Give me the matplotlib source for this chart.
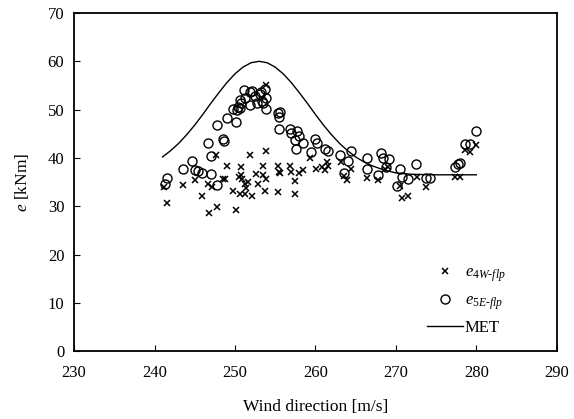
import matplotlib
matplotlib.use("Agg")
import matplotlib.pyplot as plt

plt.rcParams['font.family'] = ['Liberation Serif', 'DejaVu Serif']
plt.rcParams['mathtext.fontset'] = 'custom'
plt.rcParams['mathtext.rm'] = 'Liberation Serif'
plt.rcParams['mathtext.it'] = 'Liberation Serif:italic'

# e_4W-flp (crosses)
w4_x = [241.2, 241.5, 243.5, 245.0, 245.9, 246.8, 247.8, 246.7, 247.1, 247.7,
        248.5, 248.8, 249.0, 249.8, 250.1, 250.5, 250.7, 250.8, 250.9, 250.6,
        251.2, 251.2, 251.4, 251.6, 251.9, 252.1, 252.6, 252.9, 253.5, 253.5,
        253.7, 253.9, 253.9, 253.9, 255.4, 255.5, 255.6, 255.4, 256.8, 257.0,
        257.5, 257.5, 257.9, 258.5, 259.3, 260.1, 260.8, 261.2, 261.4, 261.6,
        263.2, 263.6, 263.9, 264.4, 266.4, 267.8, 268.6, 269.0, 270.5, 270.7,
        271.5, 272.6, 273.8, 277.3, 278.0, 278.6, 279.2, 280.0]
w4_y = [34.0, 30.7, 34.3, 35.4, 32.1, 28.6, 29.9, 34.7, 34.0, 40.5,
        35.6, 35.7, 38.3, 33.2, 29.2, 36.1, 36.4, 38.2, 35.7, 32.6,
        34.7, 32.6, 33.7, 35.1, 40.5, 32.2, 36.6, 34.7, 38.3, 36.4,
        33.2, 35.7, 41.5, 55.0, 38.3, 37.1, 36.9, 33.0, 38.3, 37.1,
        35.3, 32.6, 36.8, 37.5, 39.9, 37.8, 38.2, 37.5, 39.2, 38.3,
        39.2, 36.2, 35.4, 37.8, 35.8, 35.4, 37.8, 38.2, 34.2, 31.6,
        32.2, 36.1, 34.0, 36.1, 36.1, 41.6, 41.3, 42.7]

# e_5E-flp (circles)
e5_x = [241.3, 241.6, 243.5, 244.7, 245.0, 245.4, 245.9, 246.6, 247.0, 247.0,
        247.8, 247.8, 248.5, 248.6, 249.0, 249.8, 250.1, 250.2, 250.6, 250.8,
        250.6, 251.2, 251.1, 251.9, 252.1, 252.5, 252.7, 253.2, 253.3, 253.7,
        253.9, 253.9, 251.9, 253.1, 250.4, 253.5, 255.4, 255.5, 255.6, 255.5,
        256.8, 257.0, 257.7, 257.9, 257.5, 257.6, 258.5, 259.5, 260.0, 260.2,
        261.2, 261.6, 263.0, 263.5, 264.0, 264.4, 266.4, 266.4, 267.8, 268.2,
        268.4, 269.2, 268.8, 270.5, 270.7, 270.1, 271.5, 272.5, 273.8, 274.3,
        277.3, 277.7, 278.0, 278.6, 279.2, 280.0]
e5_y = [34.7, 35.9, 37.8, 39.4, 37.5, 37.3, 36.9, 43.1, 40.4, 36.6,
        34.4, 46.9, 44.0, 43.5, 48.3, 50.2, 47.5, 50.0, 50.4, 51.3,
        52.0, 52.3, 54.0, 50.9, 53.9, 52.8, 51.3, 53.7, 51.8, 54.2,
        52.5, 50.2, 53.7, 53.3, 50.6, 51.3, 49.2, 48.5, 49.5, 46.0,
        46.0, 45.1, 45.6, 44.5, 43.8, 41.8, 43.1, 41.3, 44.0, 43.1,
        41.8, 41.5, 40.7, 36.9, 39.4, 41.5, 39.9, 37.8, 36.4, 41.1,
        40.0, 39.8, 38.2, 37.7, 36.1, 34.2, 35.6, 38.8, 35.9, 35.9,
        38.2, 38.8, 39.0, 42.8, 42.8, 45.5]

# MET curve
met_x = [241, 242, 243, 244, 245, 246, 247, 248, 249, 250, 251, 252, 253,
         254, 255, 256, 257, 258, 259, 260, 261, 262, 263, 264, 265, 266,
         267, 268, 269, 270, 272, 275, 280]
met_y = [40.2, 41.5, 43.0, 44.8, 46.8, 49.0, 51.3, 53.5, 55.6, 57.4, 58.8, 59.7, 60.0,
         59.7, 58.8, 57.4, 55.6, 53.5, 51.3, 49.0, 46.8, 44.8, 43.0, 41.5, 40.2, 39.2,
         38.4, 37.8, 37.3, 36.9, 36.6, 36.5, 36.5]

fig = plt.figure(figsize=(5.74, 4.19), dpi=100)
ax = fig.add_axes([0.129, 0.162, 0.841, 0.807])

ax.plot(w4_x, w4_y, 'x', color='black', markersize=4.5, markeredgewidth=1.1,
        label=r'$e_{4W\text{-}flp}$')
ax.plot(e5_x, e5_y, 'o', markerfacecolor='none', markeredgecolor='black',
        markersize=6.5, markeredgewidth=1.0, label=r'$e_{5E\text{-}flp}$')
ax.plot(met_x, met_y, '-', color='black', linewidth=1.0, label='MET')

ax.set_xlim(230, 290)
ax.set_ylim(0, 70)
ax.set_xticks(range(230, 291, 10))
ax.set_yticks(range(0, 71, 10))
ax.tick_params(direction='in', labelsize=12, length=4, top=False, right=False)
ax.tick_params(axis='x', pad=10)
ax.tick_params(axis='y', pad=7)
for s in ax.spines.values():
    s.set_linewidth(1.3)

ax.set_xlabel('Wind direction [m/s]', fontsize=12.5, labelpad=13)
ax.set_ylabel(r'$e$ [kNm]', fontsize=12.5, labelpad=12)

ax.legend(loc='lower right', bbox_to_anchor=(0.925, 0.0), frameon=False,
          fontsize=12, handlelength=2.2, labelspacing=0.5, handletextpad=0.1)

fig.savefig('out.png', dpi=100)
